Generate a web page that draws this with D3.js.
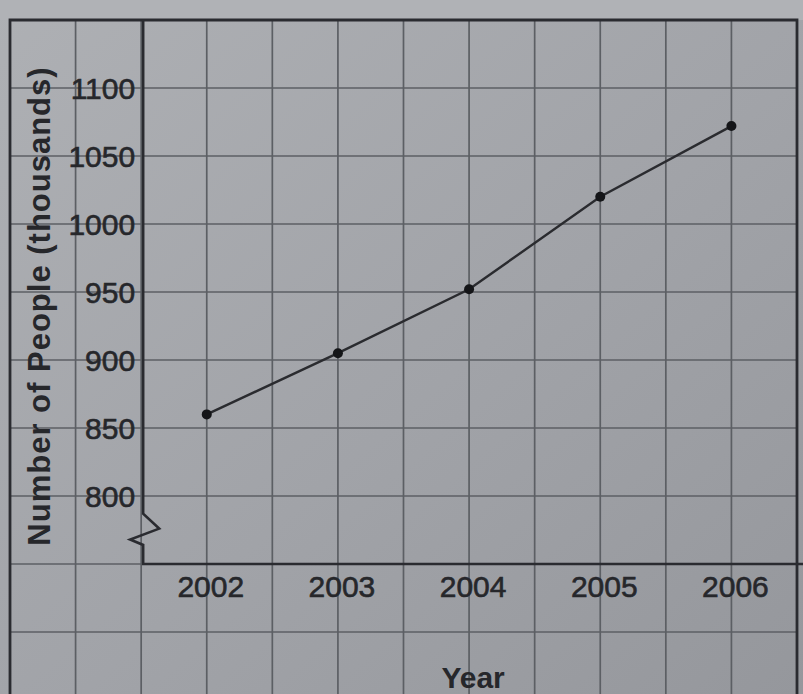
<!DOCTYPE html>
<html>
<head>
<meta charset="utf-8">
<script src="https://cdn.jsdelivr.net/npm/d3@7"></script>
<style>
  html, body { margin: 0; padding: 0; background: #a2a4a9; }
  svg { display: block; }
  text { font-family: "Liberation Sans", Arial, Helvetica, sans-serif; fill: #26272b; }
</style>
</head>
<body>
<svg id="chart" width="803" height="694"></svg>
<script>
// ---- data ----
const years = [2002, 2003, 2004, 2005, 2006];
const people = [860, 905, 952, 1020, 1072];
const yTicks = [800, 850, 900, 950, 1000, 1050, 1100];
const yLabel = "Number of People (thousands)";
const xLabel = "Year";

(function () {
const W = 803, H = 694;
const svg = d3.select("#chart");

// scales (grid paper: one cell = half a year horizontally, 50 thousand vertically)
const x = d3.scaleLinear().domain([2000.5, 2006.5]).range([10, 797]);
const y = d3.scaleLinear().domain([1100, 800]).range([88, 496]);

// background paper with slight vignetting
const defs = svg.append("defs");
const grad = defs.append("linearGradient").attr("id", "paper")
  .attr("x1", "0").attr("y1", "0").attr("x2", "1").attr("y2", "1");
grad.append("stop").attr("offset", "0%").attr("stop-color", "#aeb0b4");
grad.append("stop").attr("offset", "55%").attr("stop-color", "#a1a3a8");
grad.append("stop").attr("offset", "100%").attr("stop-color", "#95979c");
svg.append("rect").attr("width", W).attr("height", H).attr("fill", "url(#paper)");

const gridColor = "#5c5f64";
const inkColor = "#2a2b30";
const topY = 20;

// lighter strip of paper above the grid
svg.append("rect").attr("width", W).attr("height", topY).attr("fill", "#b0b2b6");

// horizontal grid lines
const hVals = d3.range(1150, 600, -50);
svg.append("g").selectAll("line").data(hVals).join("line")
  .attr("x1", x(2000.5)).attr("x2", x(2006.5))
  .attr("y1", d => y(d)).attr("y2", d => y(d))
  .attr("stroke", gridColor).attr("stroke-width", 1.7);

// vertical grid lines
const vVals = d3.range(2000.5, 2006.51, 0.5);
svg.append("g").selectAll("line").data(vVals).join("line")
  .attr("x1", d => x(d)).attr("x2", d => x(d))
  .attr("y1", topY).attr("y2", H)
  .attr("stroke", gridColor).attr("stroke-width", 1.7);

// outer border
svg.append("path")
  .attr("d", `M${x(2000.5)},${H} V${topY} H${x(2006.5)} V${H}`)
  .attr("fill", "none").attr("stroke", inkColor).attr("stroke-width", 2.8);

// y axis with break
const ax = x(2001.5) + 2;
const yAxisBottom = y(750);
svg.append("path")
  .attr("d", `M${ax},${topY} V${y(787)} L${ax + 16},${y(776)} L${ax - 13},${y(768)} L${ax},${y(764)} V${yAxisBottom} H${W}`)
  .attr("fill", "none").attr("stroke", inkColor).attr("stroke-width", 2.6)
  .attr("stroke-linejoin", "miter");

// y tick labels
svg.append("g").selectAll("text").data(yTicks).join("text")
  .attr("x", ax - 8).attr("y", d => y(d)).attr("dy", "0.36em")
  .attr("text-anchor", "end").attr("font-size", 30)
  .attr("stroke", "#26272b").attr("stroke-width", 0.6)
  .text(d => d);

// x tick labels
svg.append("g").selectAll("text").data(years).join("text")
  .attr("x", d => x(d) + 4).attr("y", yAxisBottom + 33)
  .attr("text-anchor", "middle").attr("font-size", 30)
  .attr("stroke", "#26272b").attr("stroke-width", 0.6)
  .text(d => d);

// axis titles
svg.append("text")
  .attr("transform", `translate(50,306) rotate(-90)`)
  .attr("text-anchor", "middle").attr("font-size", 31).attr("font-weight", "bold")
  .attr("letter-spacing", 1)
  .text(yLabel);

svg.append("text")
  .attr("x", x(2004) + 4).attr("y", 688)
  .attr("text-anchor", "middle").attr("font-size", 30).attr("font-weight", "bold")
  .text(xLabel);

// line + points
const line = d3.line().x((d, i) => x(years[i])).y(d => y(d));
svg.append("path").datum(people)
  .attr("d", line).attr("fill", "none")
  .attr("stroke", "#2a2b2f").attr("stroke-width", 2.4);

svg.append("g").selectAll("circle").data(people).join("circle")
  .attr("cx", (d, i) => x(years[i])).attr("cy", d => y(d)).attr("r", 5)
  .attr("fill", "#141518");
})();
</script>
</body>
</html>
